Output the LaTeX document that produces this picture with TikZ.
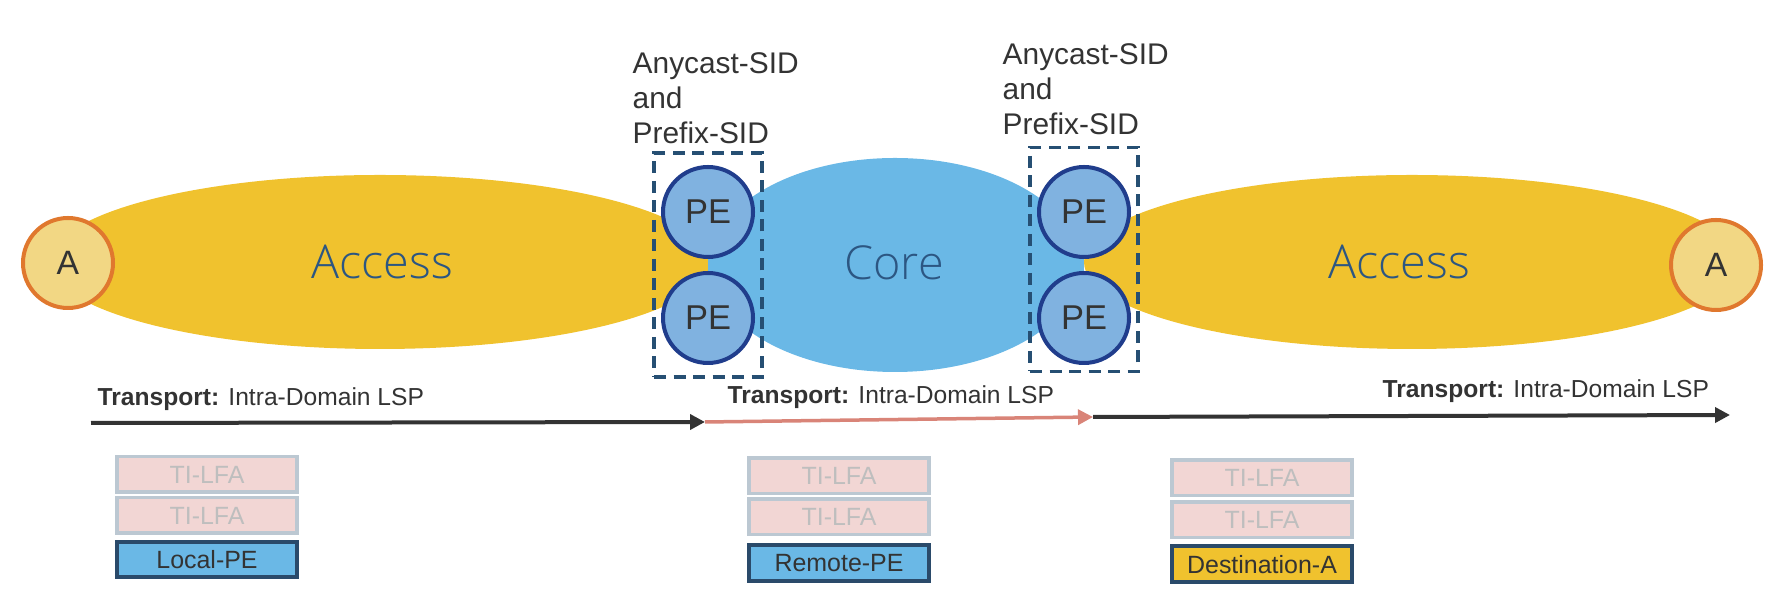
\documentclass[tikz,border=0pt]{standalone}
\usepackage{fontspec}
\setmainfont{Liberation Sans}
\newfontfamily\thinfont{Open Sans Light}
\usepackage{tikz}
\usetikzlibrary{arrows.meta,positioning,fit}
\definecolor{accessc}{RGB}{240,194,46}
\definecolor{corec}{RGB}{106,184,230}
\definecolor{pefill}{RGB}{128,178,224}
\definecolor{pedraw}{RGB}{32,61,140}
\definecolor{hostfill}{RGB}{242,215,132}
\definecolor{hostdraw}{RGB}{224,120,46}
\definecolor{dashc}{RGB}{38,79,115}
\definecolor{domc}{RGB}{44,86,130}
\definecolor{textc}{RGB}{51,51,51}
\definecolor{tilfafill}{RGB}{242,214,212}
\definecolor{tilfadraw}{RGB}{188,200,210}
\definecolor{tilfatext}{RGB}{190,190,190}
\definecolor{boxdraw}{RGB}{42,74,106}
\definecolor{lspc}{RGB}{217,132,120}
\tikzset{
  domtext/.style={text=domc, font=\thinfont\fontsize{13.3}{15}\selectfont},
  host/.style={circle, draw=hostdraw, fill=hostfill, line width=0.4mm, minimum size=0.9cm, text=textc, font=\fontsize{9.6}{11}\selectfont},
  pe/.style={circle, draw=pedraw, fill=pefill, line width=0.4mm, minimum size=0.9cm, text=textc, font=\fontsize{9.8}{11}\selectfont},
  anygroup/.style={draw=dashc, line width=0.35mm, dash pattern=on 1.2mm off 0.75mm, inner xsep=0.07cm, inner ysep=0.12cm},
  sidtext/.style={align=left, text=textc, font=\fontsize{8.5}{10}\selectfont},
  lsptext/.style={text=textc, font=\fontsize{7.0}{8}\selectfont},
  lsp/.style={line width=0.4mm, -{Triangle[length=1.5mm, width=1.5mm]}},
  tilfa/.style={draw=tilfadraw, fill=tilfafill, text=tilfatext, line width=0.35mm, minimum width=1.80cm, minimum height=0.355cm, font=\fontsize{7.1}{8}\selectfont},
  sidbox/.style={tilfa, draw=boxdraw, text=textc, line width=0.4mm},
}
\begin{document}
\begin{tikzpicture}[every node/.style={inner sep=0pt}]
  \useasboundingbox (0,0) rectangle (17.79,6.07);
  % domains
  \fill[accessc] (3.80,3.45) ellipse [x radius=3.30, y radius=0.87];
  \fill[accessc] (14.12,3.45) ellipse [x radius=3.28, y radius=0.87];
  \fill[corec] (8.95,3.42) ellipse [x radius=1.85, y radius=1.07];
  \fill[corec] (7.08,3.95) rectangle (10.84,2.89);
  \node[domtext] (accL) at (3.82,3.45) {Access};
  \node[domtext] (core) at (8.94,3.44) {Core};
  \node[domtext] (accR) at (13.99,3.45) {Access};
  % hosts
  \node[host] (hostL) at (0.68,3.44) {A};
  \node[host] (hostR) at (17.16,3.42) {A};
  % PEs
  \node[pe] (peLa) at (7.08,3.95) {PE};
  \node[pe] (peLb) at (7.08,2.89) {PE};
  \node[pe] (peRa) at (10.84,3.95) {PE};
  \node[pe] (peRb) at (10.84,2.89) {PE};
  \node[anygroup, fit=(peLa)(peLb)] (grpL) {};
  \node[anygroup, fit=(peRa)(peRb), yshift=0.055cm] (grpR) {};
  \node[sidtext, anchor=north west] (sidL) at (6.32,5.55) {Anycast-SID\\and\\Prefix-SID};
  \node[sidtext, anchor=north west] (sidR) at (10.02,5.64) {Anycast-SID\\and\\Prefix-SID};
  % transport
  \coordinate (t0) at (0.91,1.84);
  \coordinate (t1) at (7.05,1.85);
  \coordinate (t2) at (10.93,1.90);
  \coordinate (t3) at (17.30,1.92);
  \draw[lsp, textc] (t0) -- (t1);
  \draw[lsp, lspc, line width=0.35mm] (t1) -- (t2);
  \draw[lsp, textc] (t2) -- (t3);
  \node[lsptext, anchor=base west] (trL) at (0.97,2.01) {\textbf{Transport:} Intra-Domain LSP};
  \node[lsptext, anchor=base west] (trM) at (7.27,2.03) {\textbf{Transport:} Intra-Domain LSP};
  \node[lsptext, anchor=base west] (trR) at (13.82,2.09) {\textbf{Transport:} Intra-Domain LSP};
  % label stacks
  \node[tilfa] (tlL1) at (2.07,1.325) {TI-LFA};
  \node[tilfa, below=0.02 of tlL1] (tlL2) {TI-LFA};
  \node[sidbox, fill=corec, below=0.05 of tlL2] (stL) {Local-PE};
  \node[tilfa] (tlM1) at (8.39,1.31) {TI-LFA};
  \node[tilfa, below=0.02 of tlM1] (tlM2) {TI-LFA};
  \node[sidbox, fill=corec, below=0.07 of tlM2] (stM) {Remote-PE};
  \node[tilfa] (tlR1) at (12.62,1.29) {TI-LFA};
  \node[tilfa, below=0.03 of tlR1] (tlR2) {TI-LFA};
  \node[sidbox, fill=accessc, below=0.05 of tlR2] (stR) {Destination-A};
\end{tikzpicture}
\end{document}
